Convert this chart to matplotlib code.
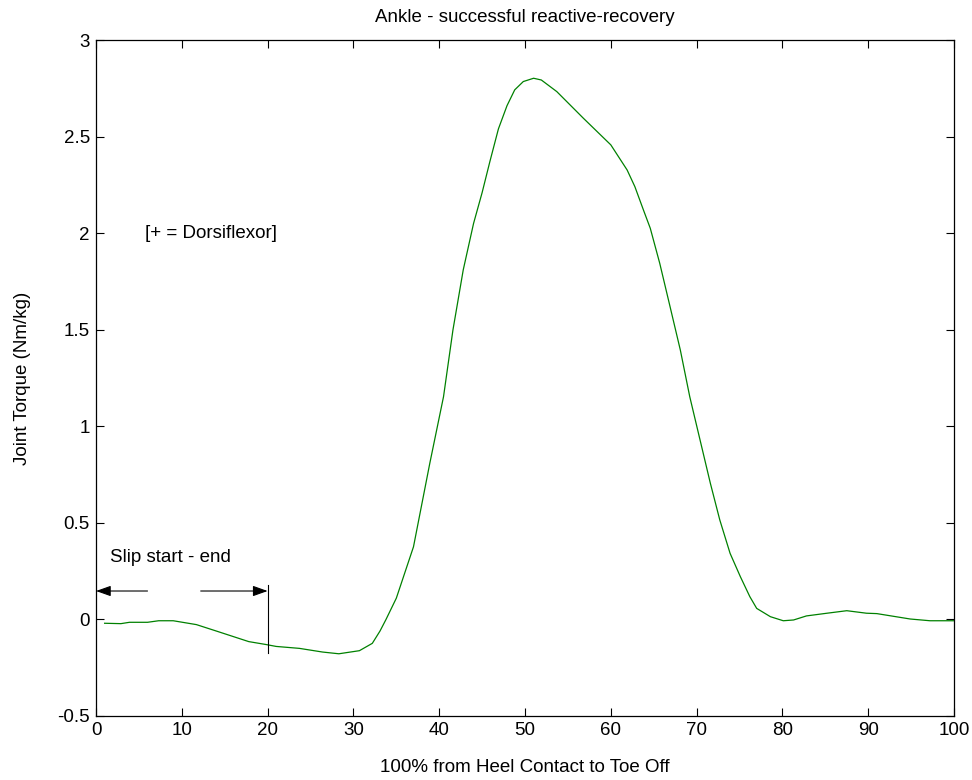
import matplotlib
matplotlib.use('Agg')
import matplotlib.pyplot as plt

plt.rcParams['font.family'] = ['Liberation Sans', 'DejaVu Sans']
plt.rcParams['font.size'] = 13.5

# percent of stance (heel contact -> toe off)
pct = [1, 2.9, 3.9, 6, 7.3, 9, 11.7, 14, 17.8, 19.8, 21, 23.7, 26.4, 28.3, 30.7,
       32.2, 33.1, 33.8, 35, 37, 38.9, 40.5, 41.6, 42.8, 44, 45, 45.9, 46.9, 47.9,
       48.8, 49.8, 51, 51.9, 53.7, 56.8, 60, 61.9, 62.8, 63.8, 64.6, 65.7, 66.9,
       68.1, 69.2, 70.4, 71.6, 72.7, 73.9, 75.1, 76.2, 77, 78.6, 80.1, 81.3, 82.8,
       85.2, 87.5, 89.8, 91, 94.9, 97.2, 100]
# ankle joint torque (Nm/kg)
torque = [-0.02, -0.022, -0.015, -0.015, -0.007, -0.007, -0.027, -0.06, -0.115, -0.13,
          -0.14, -0.15, -0.169, -0.178, -0.162, -0.124, -0.06, 0.0, 0.11, 0.376, 0.808,
          1.153, 1.499, 1.81, 2.05, 2.21, 2.37, 2.54, 2.66, 2.742, 2.785, 2.802, 2.793,
          2.733, 2.595, 2.457, 2.327, 2.241, 2.12, 2.025, 1.844, 1.62, 1.395, 1.153,
          0.929, 0.705, 0.515, 0.342, 0.221, 0.118, 0.057, 0.014, -0.007, -0.003,
          0.018, 0.032, 0.045, 0.032, 0.03, 0.002, -0.007, -0.007]

xticks = [0, 10, 20, 30, 40, 50, 60, 70, 80, 90, 100]
yticks = [-0.5, 0, 0.5, 1, 1.5, 2, 2.5, 3]
ytick_labels = ['-0.5', '0', '0.5', '1', '1.5', '2', '2.5', '3']

slip_start, slip_end = 0, 20

fig = plt.figure(figsize=(9.72, 7.8), dpi=100)
ax = fig.add_axes([0.0988, 0.0821, 0.8827, 0.8666])

ax.plot(pct, torque, color='#008000', lw=0.9)

ax.set_xlim(0, 100)
ax.set_ylim(-0.5, 3)
ax.set_xticks(xticks)
ax.set_yticks(yticks)
ax.set_yticklabels(ytick_labels)
ax.tick_params(direction='in', length=5.5, width=0.8, top=True, right=True, pad=4.5)
for s in ax.spines.values():
    s.set_linewidth(0.9)

ax.set_title('Ankle - successful reactive-recovery', fontsize=13.5, pad=13)
ax.set_xlabel('100% from Heel Contact to Toe Off', labelpad=14)
ax.set_ylabel('Joint Torque (Nm/kg)', labelpad=19)

# slip annotation
ax.text(1.6, 0.318, 'Slip start - end', va='center', ha='left')
arrow = dict(arrowstyle='-|>,head_length=0.45,head_width=0.16', color='k', lw=0.8,
             mutation_scale=20, shrinkA=0, shrinkB=0)
ax.annotate('', xy=(slip_start, 0.147), xytext=(6, 0.147), arrowprops=arrow)
ax.annotate('', xy=(slip_end, 0.147), xytext=(12.2, 0.147), arrowprops=arrow)
ax.plot([slip_end, slip_end], [0.178, -0.174], color='k', lw=0.8)

ax.text(5.7, 2.0, '[+ = Dorsiflexor]', va='center', ha='left')

fig.savefig('out.png', dpi=100)
